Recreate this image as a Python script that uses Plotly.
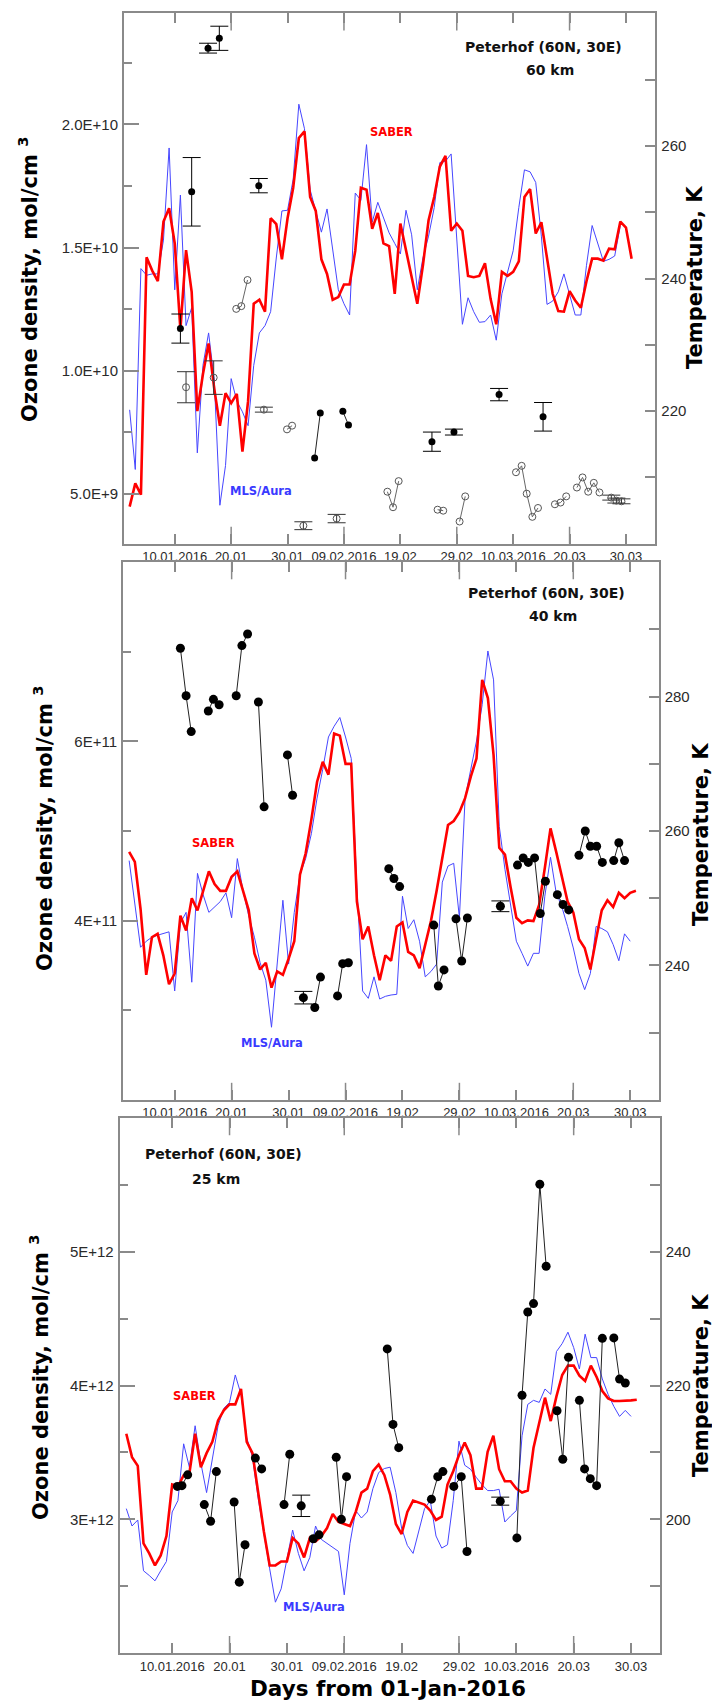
import plotly.graph_objects as go

# ---------------- data ----------------
TICK_DAYS = [10, 20, 30, 40, 50, 60, 70, 80, 90]
TICK_TEXT = ["10.01.2016", "20.01", "30.01", "09.02.2016", "19.02",
             "29.02", "10.03.2016", "20.03", "30.03"]
LONG_TICK_DAYS = [20, 40, 60, 80]

SABER_DAYS = list(range(2, 92))
MLS_DAYS_60 = list(range(2, 90))
MLS_DAYS = list(range(2, 91))

# ---- 60 km ----
saber_60 = [205.6, 209.1, 207.4, 243.2, 241.2, 239.6, 248.6, 250.6, 245.3, 232.3,
            244.3, 238.0, 220.0, 225.6, 230.2, 223.4, 217.8, 222.7, 221.2, 222.6,
            213.9, 221.5, 236.2, 236.8, 235.0, 249.1, 248.2, 242.9, 249.1, 253.7,
            261.2, 262.2, 252.3, 250.2, 242.9, 240.7, 236.8, 237.2, 239.1, 239.1,
            244.2, 253.7, 253.4, 247.5, 249.9, 245.3, 244.9, 237.7, 248.3, 244.2,
            240.4, 236.2, 242.0, 248.8, 252.3, 256.9, 258.5, 247.2, 248.3, 247.2,
            240.4, 240.2, 240.4, 242.3, 236.9, 233.1, 241.0, 240.4, 241.0, 242.6,
            252.3, 253.5, 246.8, 248.5, 243.1, 237.7, 235.1, 235.0, 238.1, 236.7,
            235.6, 239.6, 243.0, 243.0, 242.7, 244.5, 244.4, 248.6, 247.7, 243.0]
mls_60 = [220.2, 211.2, 241.5, 240.5, 240.7, 240.7, 245.8, 259.7, 238.3, 252.6,
          232.9, 235.6, 213.7, 226.9, 231.8, 224.7, 205.8, 211.8, 224.9, 221.5,
          219.9, 217.8, 226.9, 231.8, 232.9, 235.0, 243.1, 250.2, 250.3, 255.0,
          266.3, 262.6, 253.4, 250.2, 247.0, 250.5, 244.2, 238.3, 236.2, 234.5,
          252.9, 251.8, 260.2, 248.5, 251.5, 249.1, 246.9, 245.3, 243.7, 250.3,
          246.6, 238.3, 243.1, 246.4, 250.7, 257.5, 257.7, 258.8, 245.3, 233.1,
          237.1, 235.0, 233.4, 233.5, 234.5, 230.7, 237.7, 241.0, 244.2, 250.7,
          256.4, 256.1, 254.5, 246.4, 236.1, 236.6, 238.0, 240.7, 237.7, 234.5,
          234.5, 242.0, 248.0, 245.3, 242.6, 242.9, 243.4, 248.0]
oz60_days = [[34.8, 35.8], [39.8, 40.8]]
oz60_vals = [[6.46e9, 8.28e9], [8.35e9, 7.80e9]]
oz60_err_days = [11.0, 13.0, 15.9, 17.9, 24.9, 55.6, 59.5, 67.5, 75.3]
oz60_err_vals = [1.171e10, 1.726e10, 2.309e10, 2.349e10, 1.751e10, 7.12e9, 7.51e9, 9.03e9, 8.13e9]
oz60_err = [0.59e9, 1.39e9, 0.2e9, 0.49e9, 0.29e9, 0.39e9, 0.12e9, 0.25e9, 0.58e9]
oz60o_days = [[20.9, 21.8, 22.9], [29.9, 30.8], [47.7, 48.7, 49.7], [56.6, 57.6],
              [60.5, 61.5], [70.5, 71.5, 72.4, 73.4, 74.4], [77.4, 78.4, 79.4],
              [81.3, 82.3, 83.3, 84.3, 85.3]]
oz60o_vals = [[1.251e10, 1.262e10, 1.368e10], [7.62e9, 7.77e9], [5.09e9, 4.46e9, 5.52e9],
              [4.36e9, 4.32e9], [3.88e9, 4.90e9], [5.88e9, 6.14e9, 5.01e9, 4.07e9, 4.43e9],
              [4.58e9, 4.65e9, 4.90e9], [5.26e9, 5.67e9, 5.09e9, 5.45e9, 5.06e9]]
oz60o_err_days = [12.0, 16.9, 25.8, 32.8, 38.7, 87.4, 88.3, 89.2]
oz60o_err_vals = [9.33e9, 9.72e9, 8.42e9, 3.71e9, 4.0e9, 4.85e9, 4.73e9, 4.70e9]
oz60o_err = [0.63e9, 0.68e9, 0.1e9, 0.16e9, 0.17e9, 0.1e9, 0.1e9, 0.1e9]

# ---- 40 km ----
saber_40 = [256.9, 255.4, 248.4, 238.6, 244.2, 244.7, 241.5, 237.2, 238.8, 247.4,
            245.2, 250.0, 248.2, 251.1, 254.0, 252.1, 251.1, 251.1, 253.2, 254.0,
            251.1, 248.2, 241.8, 239.4, 240.4, 236.7, 239.1, 238.6, 241.0, 243.6,
            253.5, 256.7, 261.7, 267.3, 270.3, 268.4, 274.5, 274.2, 270.0, 270.0,
            249.5, 243.9, 245.8, 241.5, 237.8, 241.5, 240.7, 245.8, 246.4, 242.0,
            241.5, 239.6, 243.1, 246.6, 251.1, 255.9, 260.9, 261.5, 262.8, 264.9,
            268.1, 270.8, 282.5, 279.8, 271.3, 257.5, 256.5, 251.6, 247.1, 246.3,
            246.7, 246.6, 249.0, 254.5, 260.4, 256.9, 253.2, 249.5, 247.9, 243.9,
            242.6, 239.4, 243.9, 248.2, 249.7, 248.7, 250.8, 250.0, 250.8, 251.1]
mls_40 = [255.6, 249.0, 242.7, 243.6, 244.2, 244.5, 244.7, 245.0, 236.2, 246.3,
          247.9, 237.5, 253.7, 250.5, 247.9, 248.7, 249.5, 250.8, 247.1, 255.9,
          251.1, 247.4, 244.2, 240.4, 237.8, 230.8, 239.9, 249.7, 240.2, 247.9,
          253.5, 255.9, 259.6, 264.9, 269.2, 274.0, 275.6, 276.9, 274.0, 270.8,
          251.6, 236.2, 235.1, 238.3, 235.0, 235.4, 235.6, 235.7, 250.3, 245.5,
          246.8, 243.6, 238.3, 239.1, 240.2, 252.4, 254.8, 255.2, 247.1, 264.9,
          269.2, 273.4, 278.8, 286.8, 282.5, 260.7, 254.3, 249.0, 243.6, 241.8,
          239.9, 241.8, 241.8, 250.3, 256.1, 250.8, 248.7, 245.8, 242.6, 238.8,
          236.4, 238.8, 245.8, 245.5, 245.0, 243.1, 240.7, 244.7, 243.6]
oz40_days = [[11.0, 12.0, 12.9], [15.9, 16.8, 17.8], [20.8, 21.8, 22.8], [24.7, 25.7],
             [29.8, 30.7], [34.6, 35.6], [38.6, 39.5, 40.5], [47.6, 48.5, 49.5],
             [55.5, 56.3, 57.3], [59.4, 60.4, 61.4], [70.2, 71.2, 72.1, 73.2, 74.2, 75.1],
             [77.2, 78.2, 79.2], [81.0, 82.1, 83.0, 84.1, 85.1], [87.1, 88.0, 89.0]]
oz40_vals = [[7.04e11, 6.51e11, 6.11e11], [6.34e11, 6.47e11, 6.41e11],
             [6.51e11, 7.07e11, 7.20e11], [6.44e11, 5.27e11], [5.85e11, 5.40e11],
             [3.03e11, 3.37e11], [3.16e11, 3.52e11, 3.53e11], [4.58e11, 4.47e11, 4.38e11],
             [3.95e11, 3.27e11, 3.45e11], [4.02e11, 3.55e11, 4.03e11],
             [4.62e11, 4.70e11, 4.65e11, 4.70e11, 4.08e11, 4.44e11],
             [4.29e11, 4.18e11, 4.12e11], [4.73e11, 5.00e11, 4.83e11, 4.83e11, 4.65e11],
             [4.67e11, 4.87e11, 4.67e11]]
oz40_err_days = [32.6, 67.2]
oz40_err_vals = [3.14e11, 4.16e11]
oz40_err = [0.07e11, 0.06e11]

# ---- 25 km ----
saber_25 = [212.8, 209.3, 208.0, 196.4, 194.9, 193.1, 194.6, 197.5, 205.2, 204.9,
            206.6, 206.9, 212.8, 207.8, 209.9, 211.6, 214.8, 216.3, 217.2, 217.2,
            219.5, 211.6, 209.9, 204.0, 198.1, 193.1, 193.1, 193.7, 193.7, 197.2,
            196.4, 194.3, 197.2, 196.7, 197.5, 198.7, 200.8, 199.6, 199.3, 199.0,
            201.1, 204.0, 204.6, 207.2, 208.2, 206.6, 203.7, 199.3, 197.8, 201.1,
            202.8, 202.5, 202.2, 201.3, 199.9, 200.4, 205.2, 207.2, 209.6, 211.5,
            209.6, 204.6, 204.6, 210.1, 212.5, 207.5, 205.7, 205.7, 204.6, 204.0,
            204.3, 210.7, 214.3, 218.2, 214.7, 218.4, 221.6, 223.0, 223.0, 221.5,
            220.7, 223.0, 221.3, 219.2, 218.1, 217.7, 217.7, 217.7, 217.8, 217.9]
mls_25 = [201.6, 199.0, 199.9, 192.3, 191.6, 190.8, 192.3, 193.7, 201.1, 202.8,
          211.3, 207.8, 214.0, 208.4, 204.0, 209.0, 214.0, 216.6, 217.5, 221.6,
          218.7, 212.2, 209.3, 203.1, 197.5, 192.6, 187.6, 189.6, 194.0, 198.4,
          194.9, 192.3, 194.3, 199.0, 197.0, 196.4, 195.8, 195.2, 188.7, 196.4,
          201.3, 200.2, 201.1, 204.6, 207.0, 207.6, 207.8, 204.0, 198.7, 196.1,
          194.9, 198.1, 201.6, 202.8, 197.5, 195.7, 196.2, 202.8, 211.7, 208.1,
          207.5, 206.3, 205.2, 204.3, 204.3, 204.5, 199.6, 200.5, 201.3, 212.5,
          217.2, 217.8, 217.5, 219.5, 218.7, 225.1, 226.3, 228.0, 225.7, 222.5,
          227.7, 224.2, 224.2, 221.0, 218.7, 216.9, 215.4, 216.3, 215.4]
oz25_days = [[10.9, 11.7, 12.7], [15.6, 16.7, 17.7], [20.8, 21.7, 22.7], [24.5, 25.6],
             [29.5, 30.5], [34.6, 35.6], [38.6, 39.5, 40.4], [47.5, 48.5, 49.5],
             [55.2, 56.3, 57.2], [59.1, 60.4, 61.4], [70.1, 71.0, 72.0, 73.0, 74.1, 75.2],
             [77.1, 78.1, 79.1], [81.0, 81.9, 82.9, 84.0, 85.0], [87.0, 88.0, 89.0]]
oz25_vals = [[3.246e12, 3.252e12, 3.333e12], [3.11e12, 2.986e12, 3.357e12],
             [3.13e12, 2.53e12, 2.81e12], [3.458e12, 3.377e12], [3.11e12, 3.487e12],
             [2.855e12, 2.884e12], [3.464e12, 3.0e12, 3.319e12],
             [4.275e12, 3.71e12, 3.536e12], [3.151e12, 3.319e12, 3.357e12],
             [3.246e12, 3.319e12, 2.759e12],
             [2.861e12, 3.928e12, 4.551e12, 4.614e12, 5.507e12, 4.893e12],
             [3.812e12, 3.449e12, 4.212e12],
             [3.89e12, 3.377e12, 3.304e12, 3.252e12, 4.354e12],
             [4.357e12, 4.049e12, 4.02e12]]
oz25_err_days = [32.5, 67.2]
oz25_err_vals = [3.101e12, 3.136e12]
oz25_err = [0.08e12, 0.03e12]

# ---------------- style ----------------
FRAME = "#8a8a8a"
TXT = "#2a2a2a"
BOLD = "DejaVu Sans"
TICKFONT = "Liberation Sans, Arial, sans-serif"
RED = "#ff0000"
BLUE = "#4646ff"
W, H = 720, 1703


def px(xp):
    return xp / W


def py(yp):
    return 1 - yp / H


def joined(dg, vg):
    xs, ys = [], []
    for d, v in zip(dg, vg):
        xs += list(d) + [None]
        ys += list(v) + [None]
    return xs, ys


panels = [
    dict(x="x", yt="y", yo="y2", xdom=[116, 647.3], ydom=[5.4, 535.7], xr=[1.0, 95.2],
         tr=[200, 280], t_major=[220, 240, 260], t_minor=[210, 230, 250, 270],
         or_=[2.98e9, 2.45e10], o_vals=[5e9, 1e10, 1.5e10, 2e10],
         o_text=["5.0E+9", "1.0E+10", "1.5E+10", "2.0E+10"],
         o_minor=[7.5e9, 1.25e10, 1.75e10, 2.25e10],
         saber=saber_60, mls=mls_60, mls_days=MLS_DAYS_60,
         dots=(oz60_days, oz60_vals), err=(oz60_err_days, oz60_err_vals, oz60_err),
         hollow=(oz60o_days, oz60o_vals), herr=(oz60o_err_days, oz60o_err_vals, oz60o_err),
         dot_size=7, km="60 km", loc=(535, 38.5), kmloc=(542, 62),
         saber_lbl=(383, 124), mls_lbl=(253, 483), ytl=(20, 272), ytr=(687, 270)),
    dict(x="x2", yt="y3", yo="y4", xdom=[115, 650.7], ydom=[554.3, 1091.8], xr=[0.92, 95.0],
         tr=[220, 300], t_major=[240, 260, 280], t_minor=[230, 250, 270, 290],
         or_=[2e11, 8e11], o_vals=[4e11, 6e11], o_text=["4E+11", "6E+11"],
         o_minor=[3e11, 5e11, 7e11],
         saber=saber_40, mls=mls_40, mls_days=MLS_DAYS,
         dots=(oz40_days, oz40_vals), err=(oz40_err_days, oz40_err_vals, oz40_err),
         hollow=None, herr=None,
         dot_size=9, km="40 km", loc=(538, 584.6), kmloc=(545, 608),
         saber_lbl=(205.5, 835), mls_lbl=(264, 1034.6), ytl=(35, 821), ytr=(693, 827)),
    dict(x="x3", yt="y5", yo="y6", xdom=[111.7, 651.7], ydom=[1110.3, 1645], xr=[0.85, 95.0],
         tr=[180, 260], t_major=[200, 220, 240], t_minor=[190, 210, 230, 250],
         or_=[2e12, 6e12], o_vals=[3e12, 4e12, 5e12], o_text=["3E+12", "4E+12", "5E+12"],
         o_minor=[2.5e12, 3.5e12, 4.5e12, 5.5e12],
         saber=saber_25, mls=mls_25, mls_days=MLS_DAYS,
         dots=(oz25_days, oz25_vals), err=(oz25_err_days, oz25_err_vals, oz25_err),
         hollow=None, herr=None,
         dot_size=9, km="25 km", loc=(215, 1146), kmloc=(208, 1171),
         saber_lbl=(186, 1388), mls_lbl=(306, 1599.4), ytl=(31, 1370), ytr=(693, 1378)),
]

fig = go.Figure()
layout = dict(width=W, height=H, margin=dict(l=0, r=0, t=0, b=0),
              paper_bgcolor="white", plot_bgcolor="white", showlegend=False)
annotations = []
shapes = []

for i, p in enumerate(panels):
    xa, yt, yo = p["x"], p["yt"], p["yo"]
    # lines (temperature axis)
    fig.add_trace(go.Scatter(x=p["mls_days"], y=p["mls"], mode="lines",
                             line=dict(color=BLUE, width=1), xaxis=xa, yaxis=yt))
    fig.add_trace(go.Scatter(x=SABER_DAYS, y=p["saber"], mode="lines",
                             line=dict(color=RED, width=2.6), xaxis=xa, yaxis=yt))
    # ozone (overlaying axis, drawn on top)
    if p["hollow"] is not None:
        hx, hy = joined(*p["hollow"])
        fig.add_trace(go.Scatter(x=hx, y=hy, mode="lines+markers",
                                 line=dict(color="#666666", width=1),
                                 marker=dict(symbol="circle-open", size=7, color="#555555",
                                             line=dict(width=1)),
                                 xaxis=xa, yaxis=yo))
        ed, ev, ee = p["herr"]
        fig.add_trace(go.Scatter(x=ed, y=ev, mode="markers",
                                 marker=dict(symbol="circle-open", size=7, color="#555555",
                                             line=dict(width=1)),
                                 error_y=dict(type="data", array=ee, visible=True,
                                              color="#333333", thickness=1, width=9),
                                 xaxis=xa, yaxis=yo))
    dx, dy = joined(*p["dots"])
    fig.add_trace(go.Scatter(x=dx, y=dy, mode="lines+markers",
                             line=dict(color="#222222", width=1),
                             marker=dict(size=p["dot_size"], color="black"),
                             xaxis=xa, yaxis=yo))
    ed, ev, ee = p["err"]
    fig.add_trace(go.Scatter(x=ed, y=ev, mode="markers",
                             marker=dict(size=p["dot_size"], color="black"),
                             error_y=dict(type="data", array=ee, visible=True,
                                          color="black", thickness=1, width=9),
                             xaxis=xa, yaxis=yo))

    xkey = "xaxis" if xa == "x" else "xaxis" + xa[1:]
    ytkey = "yaxis" if yt == "y" else "yaxis" + yt[1:]
    yokey = "yaxis" + yo[1:]
    layout[xkey] = dict(domain=[px(p["xdom"][0]), px(p["xdom"][1])], range=p["xr"],
                        anchor=yt, tickmode="array", tickvals=TICK_DAYS, ticktext=TICK_TEXT,
                        ticks="inside", ticklen=10, tickwidth=1.5, tickcolor=FRAME,
                        showline=True, linecolor=FRAME, linewidth=2, mirror="ticks",
                        showgrid=False, zeroline=False,
                        tickfont=dict(family=TICKFONT, size=13, color=TXT))
    layout[ytkey] = dict(domain=[py(p["ydom"][1]), py(p["ydom"][0])], range=p["tr"],
                         anchor=xa, side="right", tickmode="array", tickvals=p["t_major"],
                         ticktext=[str(v) for v in p["t_major"]],
                         ticks="inside", ticklen=10, tickwidth=1.5, tickcolor=FRAME,
                         minor=dict(tickvals=p["t_minor"], ticks="inside", ticklen=10,
                                    tickwidth=1.5, tickcolor=FRAME, showgrid=False),
                         showline=True, linecolor=FRAME, linewidth=2,
                         showgrid=False, zeroline=False, ticklabelstandoff=1,
                         tickfont=dict(family=TICKFONT, size=15, color=TXT))
    layout[yokey] = dict(overlaying=yt, anchor=xa, side="left", range=p["or_"],
                         tickmode="array", tickvals=p["o_vals"], ticktext=p["o_text"],
                         ticks="inside", ticklen=15, tickwidth=1.5, tickcolor=FRAME,
                         minor=dict(tickvals=p["o_minor"], ticks="inside", ticklen=8,
                                    tickwidth=1.5, tickcolor=FRAME, showgrid=False),
                         showline=True, linecolor=FRAME, linewidth=2,
                         showgrid=False, zeroline=False, ticklabelstandoff=1,
                         tickfont=dict(family=TICKFONT, size=15, color=TXT))
    # long ticks every 20 days (bottom and top)
    for d in LONG_TICK_DAYS:
        for anc, y1 in ((0, 17), (1, -17)):
            shapes.append(dict(type="line", xref=xa, yref=yt + " domain",
                               x0=d, x1=d, ysizemode="pixel", yanchor=anc, y0=0, y1=y1,
                               line=dict(color=FRAME, width=1.5)))
    # texts
    annotations += [
        dict(text="Peterhof (60N, 30E)", x=px(p["loc"][0]), y=py(p["loc"][1]),
             font=dict(family=BOLD, size=14, color="#111111", weight="bold")),
        dict(text=p["km"], x=px(p["kmloc"][0]), y=py(p["kmloc"][1]),
             font=dict(family=BOLD, size=14, color="#111111", weight="bold")),
        dict(text="SABER", x=px(p["saber_lbl"][0]), y=py(p["saber_lbl"][1]),
             font=dict(family=BOLD, size=11.5, color=RED, weight="bold")),
        dict(text="MLS/Aura", x=px(p["mls_lbl"][0]), y=py(p["mls_lbl"][1]),
             font=dict(family=BOLD, size=11.5, color="#3a3aff", weight="bold")),
        dict(text="Ozone density, mol/cm <sup>3</sup>", x=px(p["ytl"][0]), y=py(p["ytl"][1]),
             textangle=-90, font=dict(family=BOLD, size=21, color="black", weight="bold")),
        dict(text="Temperature, K", x=px(p["ytr"][0]), y=py(p["ytr"][1]),
             textangle=-90, font=dict(family=BOLD, size=21, color="black", weight="bold")),
    ]

annotations.append(dict(text="Days from 01-Jan-2016", x=px(380), y=py(1680),
                        font=dict(family=BOLD, size=21.5, color="black", weight="bold")))
for a in annotations:
    a.update(xref="paper", yref="paper", showarrow=False, xanchor="center", yanchor="middle")

layout["annotations"] = annotations
layout["shapes"] = shapes
fig.update_layout(**layout)
fig.write_html("out.html")
